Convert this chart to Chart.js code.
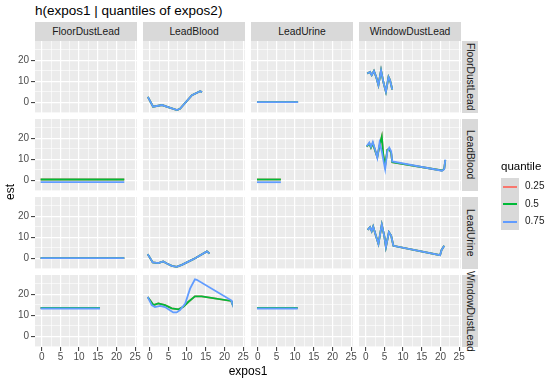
<!DOCTYPE html>
<html><head><meta charset="utf-8">
<script src="https://cdn.jsdelivr.net/npm/chart.js@4"></script>
<style>
body{margin:0;width:550px;height:383px;background:#fff;position:relative;overflow:hidden;font-family:"Liberation Sans",Arial,sans-serif;}
canvas{position:absolute;}
.t{position:absolute;white-space:nowrap;}
.strip{position:absolute;background:#D9D9D9;color:#1A1A1A;font-size:10.3px;display:flex;align-items:center;justify-content:center;}
.vstrip{writing-mode:vertical-rl;}
.key{position:absolute;background:#D9D9D9;width:18px;height:17.5px;}
.key i{position:absolute;left:2px;right:2px;top:8px;height:2px;}
</style></head><body>
<script>
// ---- facets, series, ticks ----
const facetVars = ['FloorDustLead','LeadBlood','LeadUrine','WindowDustLead'];
const quantiles = ['0.25','0.5','0.75'];
const xTickLabels = [0,5,10,15,20,25];
const yTickLabels = [0,10,20];

// ---- data (est vs expos1), one set per facet panel ----
// row FloorDustLead
const fd_lb_x   = [-0.5,0.9,3.3,4.9,7.3,8.1,11.3,13.5,14.0];
const fd_lb_est = [2.5,-2.2,-1.4,-2.4,-3.8,-3.2,3.3,5.2,4.8];
const fd_lu_x   = [-0.2,10.8];
const fd_lu_est = [0,0];
const fd_wd_x   = [0.4,1.15,1.6,2.2,2.8,3.4,4.1,4.7,5.4,6.1,6.5,7.1];
const fd_wd_est = [13.7,14.4,12.9,14.9,12.0,8.1,15.2,9.7,4.9,12.0,10.5,6.0];
// row LeadBlood
const lb_fd_x   = [-0.3,22.1];
const lb_fd_q50 = [0.3,0.3];
const lb_fd_q75 = [-1.0,-1.0];
const lb_lu_x   = [-0.2,6.2];
const lb_lu_q50 = [0.3,0.3];
const lb_lu_q75 = [-1.0,-1.0];
const lb_wd_x   = [0.26,0.96,1.4,1.9,2.5,3.1,3.7,4.3,4.7,5.2,5.8,6.3,6.8,7.1,20.4,21.0,21.3];
const lb_wd_q50 = [16.0,17.5,15.5,17.6,14.2,11.0,16.5,20.8,12.0,7.0,14.5,14.8,13.0,8.6,4.6,5.3,9.6];
const lb_wd_q75 = [16.2,17.9,15.9,18.2,14.6,10.6,17.9,13.8,9.8,5.2,13.8,15.5,13.8,8.9,4.5,5.2,9.8];
// row LeadUrine
const lu_fd_x   = [-0.3,22.1];
const lu_fd_est = [0,0];
const lu_lb_x   = [-0.54,0.8,2.3,3.6,4.6,5.9,7.2,8.6,11.7,15.3,16.0];
const lu_lb_est = [1.9,-2.1,-2.4,-1.6,-2.6,-3.7,-4.2,-3.2,-0.5,3.2,2.2];
const lu_wd_x   = [0.53,1.15,1.6,2.0,2.7,3.4,4.3,5.0,5.4,6.2,6.8,7.4,19.9,20.3,21.0];
const lu_wd_est = [13.5,14.8,12.9,15.1,10.8,6.8,16.1,10.2,5.2,12.4,10.8,5.9,1.4,3.9,5.9];
// row WindowDustLead
const wd_fd_x   = [-0.3,15.6];
const wd_fd_q50 = [13.5,13.5];
const wd_fd_q75 = [13.2,13.2];
const wd_lb_x50 = [-0.54,1.0,2.3,4.1,5.9,7.7,9.0,10.3,12.1,13.9,21.8,22.0];
const wd_lb_q50 = [18.7,14.8,15.6,14.8,13.3,12.8,14.0,16.3,19.0,19.0,16.8,15.9];
const wd_lb_x75 = [-0.54,0.53,1.4,2.8,4.1,5.4,6.3,7.2,8.1,9.5,10.8,12.1,12.6,21.8,22.0];
const wd_lb_q75 = [18.7,14.8,13.9,14.4,13.9,12.4,11.3,11.3,12.4,15.6,22.7,27.1,26.9,17.1,16.0];
const wd_lu_x   = [-0.2,10.7];
const wd_lu_q50 = [13.5,13.5];
const wd_lu_q75 = [13.2,13.2];

// panel table: row|col -> quantile -> [x, est]
const panels = {
  'FloorDustLead|LeadBlood':  {'0.25':[fd_lb_x,fd_lb_est],'0.5':[fd_lb_x,fd_lb_est],'0.75':[fd_lb_x,fd_lb_est]},
  'FloorDustLead|LeadUrine':  {'0.25':[fd_lu_x,fd_lu_est],'0.5':[fd_lu_x,fd_lu_est],'0.75':[fd_lu_x,fd_lu_est]},
  'FloorDustLead|WindowDustLead': {'0.25':[fd_wd_x,fd_wd_est],'0.5':[fd_wd_x,fd_wd_est],'0.75':[fd_wd_x,fd_wd_est]},
  'LeadBlood|FloorDustLead':  {'0.25':[lb_fd_x,lb_fd_q50],'0.5':[lb_fd_x,lb_fd_q50],'0.75':[lb_fd_x,lb_fd_q75]},
  'LeadBlood|LeadUrine':      {'0.25':[lb_lu_x,lb_lu_q50],'0.5':[lb_lu_x,lb_lu_q50],'0.75':[lb_lu_x,lb_lu_q75]},
  'LeadBlood|WindowDustLead': {'0.25':[lb_wd_x,lb_wd_q50],'0.5':[lb_wd_x,lb_wd_q50],'0.75':[lb_wd_x,lb_wd_q75]},
  'LeadUrine|FloorDustLead':  {'0.25':[lu_fd_x,lu_fd_est],'0.5':[lu_fd_x,lu_fd_est],'0.75':[lu_fd_x,lu_fd_est]},
  'LeadUrine|LeadBlood':      {'0.25':[lu_lb_x,lu_lb_est],'0.5':[lu_lb_x,lu_lb_est],'0.75':[lu_lb_x,lu_lb_est]},
  'LeadUrine|WindowDustLead': {'0.25':[lu_wd_x,lu_wd_est],'0.5':[lu_wd_x,lu_wd_est],'0.75':[lu_wd_x,lu_wd_est]},
  'WindowDustLead|FloorDustLead': {'0.25':[wd_fd_x,wd_fd_q50],'0.5':[wd_fd_x,wd_fd_q50],'0.75':[wd_fd_x,wd_fd_q75]},
  'WindowDustLead|LeadBlood':     {'0.25':[wd_lb_x50,wd_lb_q50],'0.5':[wd_lb_x50,wd_lb_q50],'0.75':[wd_lb_x75,wd_lb_q75]},
  'WindowDustLead|LeadUrine':     {'0.25':[wd_lu_x,wd_lu_q50],'0.5':[wd_lu_x,wd_lu_q50],'0.75':[wd_lu_x,wd_lu_q75]}
};

// ---- styling / layout ----
const COLORS = {'0.25':'#F8766D','0.5':'#00BA38','0.75':'#619CFF'};
const FONT = '"Liberation Sans", Arial, sans-serif';
const L0 = 35, T0 = 41, PW = 102, PH = 72, DX = 108, DY = 78, PAD = 8;
const X_MIN = -1.8, X_MAX = 25.5, Y_MIN = -5.2, Y_MAX = 29.2;
const X_STEP = 2.5, Y_STEP = 5;

const bgPlugin = {id:'panelBg', beforeDraw(chart){
  const {ctx, chartArea:a} = chart;
  ctx.save(); ctx.fillStyle = '#EBEBEB'; ctx.fillRect(a.left, a.top, a.width, a.height); ctx.restore();
}};

function isMult(v, s){ return Math.abs(v/s - Math.round(v/s)) < 1e-6; }
function gridTicks(min, max, step){
  const out = [];
  for (let k = Math.ceil(min/step); k*step <= max + 1e-9; k++) out.push({value: Math.round(k*step*1000)/1000});
  return out;
}

function addText(txt, css){ const d=document.createElement('div'); d.className='t'; d.textContent=txt; Object.assign(d.style, css); document.body.appendChild(d); return d; }

function makePanel(r, c){
  const rowV = facetVars[r], colV = facetVars[c];
  const yw = c===0 ? 35 : 0, xh = r===3 ? 25 : 0;
  const L = L0 + c*DX, T = T0 + r*DY;
  const cv = document.createElement('canvas');
  const w = PAD + yw + PW + PAD, h = PAD + PH + xh + PAD;
  cv.width = w; cv.height = h;
  cv.style.left = (L - yw - PAD) + 'px'; cv.style.top = (T - PAD) + 'px';
  cv.style.width = w + 'px'; cv.style.height = h + 'px';
  document.body.appendChild(cv);
  const p = panels[rowV + '|' + colV];
  const datasets = [];
  if (p) {
    quantiles.forEach((q, i) => {
      const [xs, ys] = p[q];
      datasets.push({label:q, data: xs.map((x, k) => ({x, y: ys[k]})), showLine:true,
        borderColor: COLORS[q], backgroundColor: COLORS[q], borderWidth: 1.8,
        pointRadius: 0, fill:false, tension:0, order: 2 - i});
    });
  }
  const tickFont = {size:10, family:FONT};
  new Chart(cv, {
    type:'scatter',
    data:{datasets},
    options:{
      responsive:false, animation:false, devicePixelRatio:1,
      layout:{padding:PAD},
      plugins:{legend:{display:false}, tooltip:{enabled:false}},
      scales:{
        x:{type:'linear', min:X_MIN, max:X_MAX, bounds:'data',
          afterFit: s => { s.height = xh; },
          afterBuildTicks: s => { s.ticks = gridTicks(X_MIN, X_MAX, X_STEP); },
          ticks:{display: r===3, stepSize:X_STEP, autoSkip:false, maxRotation:0, minRotation:0, padding:0,
            color:'#4D4D4D', font:tickFont,
            callback: v => xTickLabels.some(t => Math.abs(t - v) < 1e-6) ? String(Math.round(v)) : ''},
          grid:{color:'#FFFFFF', lineWidth: ctx => isMult(ctx.tick ? ctx.tick.value : 0, 5) ? 1.2 : 0.6,
            drawTicks: r===3, tickLength:4,
            tickColor: ctx => (ctx.tick && isMult(ctx.tick.value, 5)) ? '#333333' : 'rgba(0,0,0,0)', tickWidth:1},
          border:{display:false}
        },
        y:{type:'linear', min:Y_MIN, max:Y_MAX, bounds:'data',
          afterFit: s => { s.width = yw; },
          afterBuildTicks: s => { s.ticks = gridTicks(Y_MIN, Y_MAX, Y_STEP); },
          ticks:{display: c===0, stepSize:Y_STEP, autoSkip:false, padding:2,
            color:'#4D4D4D', font:tickFont,
            callback: v => yTickLabels.some(t => Math.abs(t - v) < 1e-6) ? String(Math.round(v)) : ''},
          grid:{color:'#FFFFFF', lineWidth: ctx => isMult(ctx.tick ? ctx.tick.value : 0, 10) ? 1.2 : 0.6,
            drawTicks: c===0, tickLength:4,
            tickColor: ctx => (ctx.tick && isMult(ctx.tick.value, 10)) ? '#333333' : 'rgba(0,0,0,0)', tickWidth:1},
          border:{display:false}
        }
      }
    },
    plugins:[bgPlugin]
  });
}

// title
addText('h(expos1 | quantiles of expos2)', {left:'35px', top:'3px', fontSize:'13.5px', color:'#000'});
// column strips
facetVars.forEach((v, c) => {
  const d = document.createElement('div'); d.className='strip'; d.textContent=v;
  Object.assign(d.style, {left:(L0 + c*DX)+'px', top:'22px', width:PW+'px', height:'19px'});
  document.body.appendChild(d);
});
// row strips
facetVars.forEach((v, r) => {
  const d = document.createElement('div'); d.className='strip vstrip'; d.textContent=v;
  Object.assign(d.style, {left:'462px', top:(T0 + r*DY)+'px', width:'16px', height:PH+'px'});
  document.body.appendChild(d);
});
for (let r = 0; r < 4; r++) for (let c = 0; c < 4; c++) makePanel(r, c);

// axis titles
addText('expos1', {left:'248px', top:'364px', transform:'translateX(-50%)', fontSize:'12px', color:'#000'});
addText('est', {left:'2px', top:'192px', fontSize:'12px', color:'#000', transform:'translate(0,-50%) rotate(-90deg)', transformOrigin:'center'});

// legend
addText('quantile', {left:'501px', top:'160px', fontSize:'11.5px', color:'#000'});
quantiles.forEach((q, i) => {
  const k = document.createElement('div'); k.className='key';
  k.style.left = '501px'; k.style.top = (177.5 + i*17.5) + 'px';
  const ln = document.createElement('i'); ln.style.background = COLORS[q]; k.appendChild(ln);
  document.body.appendChild(k);
  addText(q, {left:'525px', top:(180 + i*17.5)+'px', fontSize:'10px', color:'#1A1A1A'});
});
</script>
</body></html>
